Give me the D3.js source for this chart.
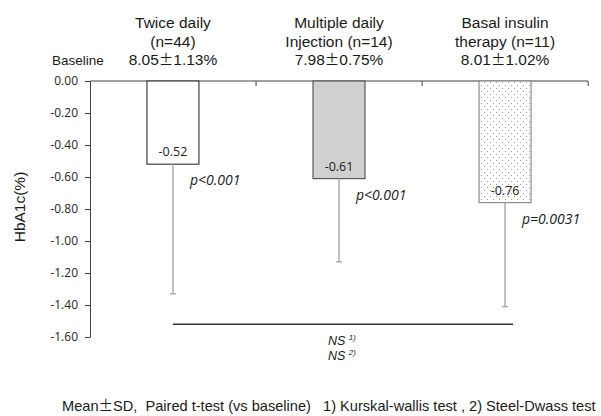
<!DOCTYPE html>
<html>
  <head>
    <title>HbA1c change</title>
    <style type="text/css">
        body{
            margin: 0;
            background: #fff;
        }
        .head{ font-family: "Liberation Sans", Arial, sans-serif; font-size: 15.5px; fill: #1a1a1a; }
        .pm{ font-family: "Noto Sans CJK JP", sans-serif; font-size: 14.5px; }
        .tick text{ font-family: "Open Sans", sans-serif; font-size: 12px; fill: #262626; }
        .vlabel{ font-family: "Open Sans", sans-serif; font-size: 12.5px; fill: #1a1a1a; }
        .plabel{ font-family: "Open Sans", sans-serif; font-size: 14px; font-style: italic; fill: #1a1a1a; }
        .ns{ font-family: "Liberation Sans", Arial, sans-serif; font-size: 12.5px; font-style: italic; fill: #1a1a1a; }
        .foot{ font-family: "Liberation Sans", Arial, sans-serif; font-size: 14.6px; fill: #1a1a1a; }
    </style>
  </head>
  <body>
    <div id="chart"></div>
    <script src="https://cdnjs.cloudflare.com/ajax/libs/d3/7.8.5/d3.min.js"></script>
    <script>
        var categories = ["Twice daily", "Multiple daily Injection", "Basal insulin therapy"];
        var headerLine1 = ["Twice daily", "Multiple daily", "Basal insulin"];
        var headerLine2 = ["(n=44)", "Injection (n=14)", "therapy (n=11)"];
        var baselineMean = ["8.05", "7.98", "8.01"];
        var baselineSd = ["1.13%", "0.75%", "1.02%"];
        var meanChange = [-0.52, -0.61, -0.76];
        var sdChange = [0.81, 0.52, 0.65];
        var pLabels = ["p<0.001", "p<0.001", "p=0.0031"];
        var yTicks = [0, -0.2, -0.4, -0.6, -0.8, -1.0, -1.2, -1.4, -1.6];
        var nsLevel = -1.52;

        var width = 601, height = 416;
        var mLeft = 90, mRight = 588, mTop = 81, mBottom = 337;

        var svg = d3.select("#chart").append("svg")
            .attr("width", width)
            .attr("height", height);

        // dotted fill for the third bar
        var pat = svg.append("defs").append("pattern")
            .attr("id", "dots")
            .attr("patternUnits", "userSpaceOnUse")
            .attr("width", 6).attr("height", 6);
        pat.append("rect").attr("width", 6).attr("height", 6).attr("fill", "#fff");
        pat.append("rect").attr("x", 1).attr("y", 1).attr("width", 1).attr("height", 1).attr("fill", "#9a9a9a");
        pat.append("rect").attr("x", 4).attr("y", 4).attr("width", 1).attr("height", 1).attr("fill", "#9a9a9a");

        var x = d3.scaleBand()
            .domain(categories)
            .range([mLeft, mRight])
            .paddingInner(0.687)
            .paddingOuter(0.343);

        var y = d3.scaleLinear()
            .domain([-1.6, 0])
            .range([mBottom, mTop]);

        var bw = x.bandwidth();
        var step = x.step();

        // y axis
        var yAxis = d3.axisLeft(y)
            .tickValues(yTicks)
            .tickFormat(d => d.toFixed(2))
            .tickSize(5)
            .tickSizeOuter(0);
        var gy = svg.append("g")
            .attr("transform", "translate(" + mLeft + ",0)")
            .call(yAxis);
        gy.selectAll("path, line").attr("stroke", "#404040");
        gy.selectAll("text").attr("x", -12);

        // top category axis at zero
        var gx = svg.append("g");
        gx.append("line")
            .attr("x1", mLeft).attr("x2", mRight)
            .attr("y1", y(0)).attr("y2", y(0))
            .attr("stroke", "#404040");
        gx.selectAll(".ctick")
            .data(categories)
            .enter().append("line")
                .attr("class", "ctick")
                .attr("x1", (d, i) => mLeft + step * (i + 1))
                .attr("x2", (d, i) => mLeft + step * (i + 1))
                .attr("y1", y(0)).attr("y2", y(0) + 5)
                .attr("stroke", "#404040");

        // bars
        var fills = ["#ffffff", "#d0d0d0", "url(#dots)"];
        var strokes = ["#404040", "#595959", "#8c8c8c"];
        svg.selectAll(".bar")
            .data(meanChange)
            .enter().append("rect")
                .attr("class", "bar")
                .attr("x", (d, i) => x(categories[i]))
                .attr("y", y(0))
                .attr("width", bw)
                .attr("height", d => y(d) - y(0))
                .attr("fill", (d, i) => fills[i])
                .attr("stroke", (d, i) => strokes[i])
                .attr("stroke-width", 1.2);

        // error bars (downward only)
        var eb = svg.selectAll(".err")
            .data(meanChange)
            .enter().append("g").attr("class", "err");
        eb.append("line")
            .attr("x1", (d, i) => x(categories[i]) + bw / 2)
            .attr("x2", (d, i) => x(categories[i]) + bw / 2)
            .attr("y1", d => y(d))
            .attr("y2", (d, i) => y(d - sdChange[i]))
            .attr("stroke", "#a0a0a0").attr("stroke-width", 1.3);
        eb.append("line")
            .attr("x1", (d, i) => x(categories[i]) + bw / 2 - 3)
            .attr("x2", (d, i) => x(categories[i]) + bw / 2 + 3)
            .attr("y1", (d, i) => y(d - sdChange[i]))
            .attr("y2", (d, i) => y(d - sdChange[i]))
            .attr("stroke", "#a0a0a0").attr("stroke-width", 1.3);

        // value labels inside bars
        svg.selectAll(".vlabel")
            .data(meanChange)
            .enter().append("text")
                .attr("class", "vlabel")
                .attr("x", (d, i) => x(categories[i]) + bw / 2)
                .attr("y", d => y(d) - 8)
                .attr("text-anchor", "middle")
                .text(d => d.toFixed(2));

        // p values
        svg.selectAll(".plabel")
            .data(pLabels)
            .enter().append("text")
                .attr("class", "plabel")
                .attr("x", (d, i) => x(categories[i]) + bw - 9)
                .attr("y", (d, i) => y(meanChange[i]) + 21)
                .text(d => d);

        // headers
        var hx = (d, i) => x(categories[i]) + bw / 2;
        [headerLine1, headerLine2].forEach(function (lines, k) {
            svg.selectAll(".head" + k)
                .data(lines)
                .enter().append("text")
                    .attr("class", "head")
                    .attr("x", hx)
                    .attr("y", 28 + k * 18.5)
                    .attr("text-anchor", "middle")
                    .text(d => d);
        });
        var bl = svg.selectAll(".head2")
            .data(baselineMean)
            .enter().append("text")
                .attr("class", "head")
                .attr("x", hx)
                .attr("y", 65)
                .attr("text-anchor", "middle");
        bl.append("tspan").text(d => d);
        bl.append("tspan").attr("class", "pm").text("\u00B1");
        bl.append("tspan").text((d, i) => baselineSd[i]);

        svg.append("text")
            .attr("class", "head")
            .attr("x", 52).attr("y", 65)
            .style("font-size", "13.5px")
            .text("Baseline");

        // y axis title
        svg.append("text")
            .attr("class", "head")
            .attr("transform", "translate(25," + ((mTop + mBottom) / 2 - 2) + ") rotate(-90)")
            .attr("text-anchor", "middle")
            .text("HbA1c(%)");

        // NS comparison line
        var nsX1 = x(categories[0]) + bw / 2;
        var nsX2 = x(categories[2]) + bw / 2 + 8;
        svg.append("line")
            .attr("x1", nsX1).attr("x2", nsX2)
            .attr("y1", y(nsLevel)).attr("y2", y(nsLevel))
            .attr("stroke", "#333").attr("stroke-width", 1.4);
        var nsMid = (nsX1 + nsX2) / 2 - 15;
        ["1)", "2)"].forEach(function (s, k) {
            var t = svg.append("text")
                .attr("class", "ns")
                .attr("x", nsMid)
                .attr("y", y(nsLevel) + 21 + k * 15);
            t.append("tspan").text("NS ");
            t.append("tspan").attr("dy", -5).style("font-size", "8px").text(s);
        });

        // footnote
        var ft = svg.append("text")
            .attr("class", "foot")
            .attr("x", 62).attr("y", 411)
            .attr("xml:space", "preserve");
        ft.append("tspan").text("Mean");
        ft.append("tspan").attr("class", "pm").text("\u00B1");
        ft.append("tspan").text("SD,  Paired t-test (vs baseline)   1) Kurskal-wallis test , 2) Steel-Dwass test");
    </script>
  </body>
</html>
